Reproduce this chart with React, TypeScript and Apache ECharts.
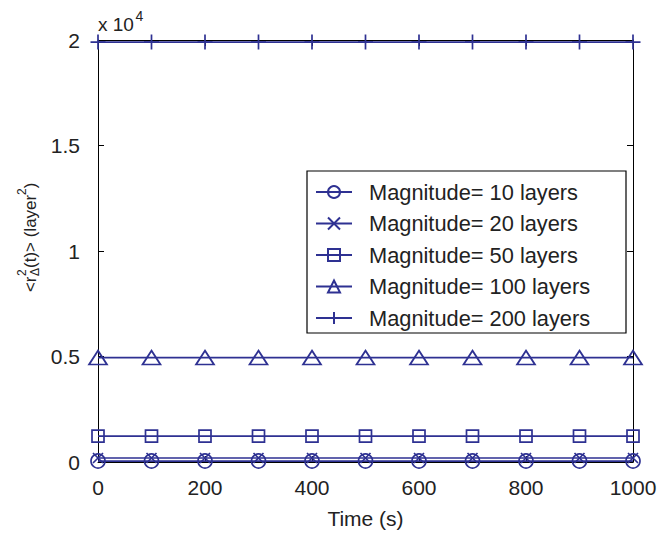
import React, { useEffect, useRef } from 'react';
import * as echarts from 'echarts';

const times = [0, 100, 200, 300, 400, 500, 600, 700, 800, 900, 1000];
const mag10 = [45, 45, 45, 45, 45, 45, 45, 45, 45, 45, 45];
const mag20 = [190, 190, 190, 190, 190, 190, 190, 190, 190, 190, 190];
const mag50 = [1225, 1225, 1225, 1225, 1225, 1225, 1225, 1225, 1225, 1225, 1225];
const mag100 = [4950, 4950, 4950, 4950, 4950, 4950, 4950, 4950, 4950, 4950, 4950];
const mag200 = [19900, 19900, 19900, 19900, 19900, 19900, 19900, 19900, 19900, 19900, 19900];
const seriesNames = [
  'Magnitude= 10 layers',
  'Magnitude= 20 layers',
  'Magnitude= 50 layers',
  'Magnitude= 100 layers',
  'Magnitude= 200 layers',
];
const yTickLabels = ['0', '0.5', '1', '1.5', '2'];

const BLUE = '#2e3192';
const TXT = '#222222';
const FONT = 'Liberation Sans, Arial, Helvetica, sans-serif';

export default function App() {
  const ref = useRef<HTMLDivElement>(null);
  useEffect(() => {
    if (!ref.current) return;
    document.body.style.margin = '0';
    document.body.style.overflow = 'hidden';
    const chart = echarts.init(ref.current, undefined, { renderer: 'svg' });
    const values = [mag10, mag20, mag50, mag100, mag200];
    const symbols = [
      'circle',
      'path://M0 0L10 10M10 0L0 10',
      'rect',
      'triangle',
      'path://M5 0L5 10M0 5L10 5',
    ];
    const sizes: any[] = [14, 10, 12, [18, 14], 15];
    const series = values.map((vals, k) => ({
      type: 'line',
      name: seriesNames[k],
      data: times.map((t, i) => [t, vals[i]]),
      symbol: symbols[k],
      symbolSize: sizes[k],
      showAllSymbol: true,
      clip: false,
      lineStyle: { color: BLUE, width: 1.7 },
      itemStyle: { color: 'rgba(255,255,255,0)', borderColor: BLUE, borderWidth: 1.7 },
      emphasis: { disabled: true },
      z: 2 + k,
    }));
    const axisCommon = {
      type: 'value',
      axisLine: { show: true, onZero: false, lineStyle: { color: '#000', width: 1 } },
      axisTick: { show: true, inside: true, length: 6, lineStyle: { color: '#000', width: 1 } },
      splitLine: { show: false },
    };
    const option: any = {
      animation: false,
      backgroundColor: '#fff',
      grid: { left: 98, right: 27, top: 40, bottom: 69 },
      xAxis: [
        {
          ...axisCommon,
          position: 'bottom',
          min: 0,
          max: 1000,
          interval: 200,
          axisLabel: { fontSize: 21, color: TXT, fontFamily: FONT, margin: 15, formatter: (v: number) => String(v) },
          name: 'Time (s)',
          nameLocation: 'middle',
          nameGap: 46,
          nameTextStyle: { fontSize: 21, color: TXT, fontFamily: FONT },
        },
        {
          ...axisCommon,
          position: 'top',
          min: 0,
          max: 1000,
          interval: 200,
          axisLabel: { show: false },
        },
      ],
      yAxis: [
        {
          ...axisCommon,
          position: 'left',
          min: 0,
          max: 20000,
          interval: 5000,
          axisLabel: {
            fontSize: 21,
            color: TXT,
            fontFamily: FONT,
            margin: 18,
            formatter: (v: number) => yTickLabels[Math.round(v / 5000)],
          },
        },
        {
          ...axisCommon,
          position: 'right',
          min: 0,
          max: 20000,
          interval: 5000,
          axisLabel: { show: false },
        },
      ],
      legend: {
        orient: 'vertical',
        left: 307,
        top: 171,
        padding: [10, 0, 0, 8],
        itemWidth: 36,
        itemHeight: 15,
        itemGap: 9.5,
        selectedMode: false,
        z: 10,
        data: seriesNames,
        textStyle: {
          fontSize: 21.8,
          lineHeight: 21.5,
          color: TXT,
          fontFamily: FONT,
          padding: [0, 0, 0, 12],
        },
      },
      graphic: {
        elements: [
          {
            type: 'rect',
            z: 3,
            shape: { x: 307, y: 171, width: 319, height: 162 },
            style: { fill: '#fff', stroke: '#000', lineWidth: 1.2 },
          },
          {
            type: 'text',
            x: 98,
            y: 24,
            style: { text: 'x 10', fontSize: 19, fontFamily: FONT, fill: TXT, align: 'left', verticalAlign: 'middle' },
          },
          {
            type: 'text',
            x: 135.5,
            y: 16,
            style: { text: '4', fontSize: 14, fontFamily: FONT, fill: TXT, align: 'left', verticalAlign: 'middle' },
          },
          {
            type: 'group',
            x: 30,
            y: 237.5,
            rotation: Math.PI / 2,
            children: [
              { type: 'text', x: -54.6, y: 0, style: { text: '<r', fontSize: 17, fontFamily: FONT, fill: TXT, align: 'left', verticalAlign: 'middle' } },
              { type: 'text', x: -38.5, y: -8, style: { text: '2', fontSize: 12, fontFamily: FONT, fill: TXT, align: 'left', verticalAlign: 'middle' } },
              { type: 'text', x: -38.5, y: 5, style: { text: 'Δ', fontSize: 12, fontFamily: FONT, fill: TXT, align: 'left', verticalAlign: 'middle' } },
              { type: 'text', x: -30.5, y: 0, style: { text: '(t)> (layer', fontSize: 17, fontFamily: FONT, fill: TXT, align: 'left', verticalAlign: 'middle' } },
              { type: 'text', x: 42.5, y: -8, style: { text: '2', fontSize: 12, fontFamily: FONT, fill: TXT, align: 'left', verticalAlign: 'middle' } },
              { type: 'text', x: 49.2, y: 0, style: { text: ')', fontSize: 17, fontFamily: FONT, fill: TXT, align: 'left', verticalAlign: 'middle' } },
            ],
          },
        ],
      },
      series,
    };
    chart.setOption(option);
    return () => chart.dispose();
  }, []);
  return <div ref={ref} style={{ width: 660, height: 534 }} />;
}
